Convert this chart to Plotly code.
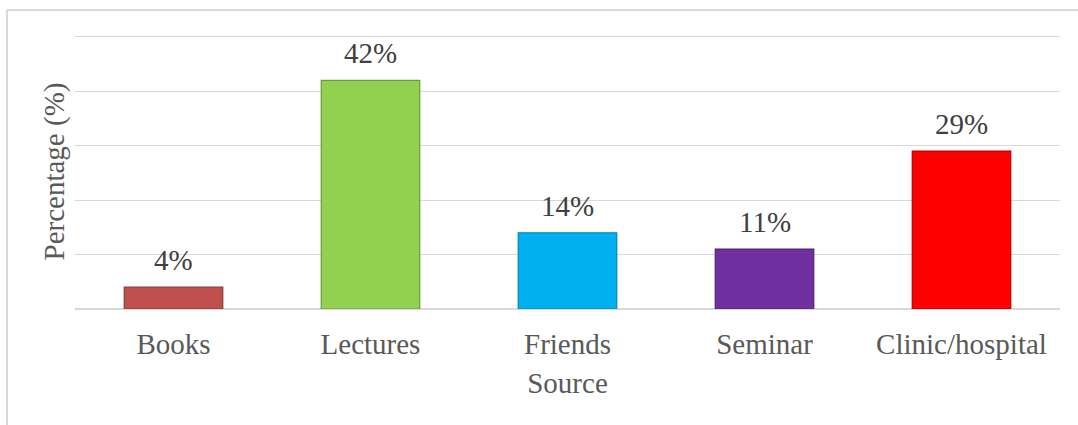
import plotly.graph_objects as go

# Source of information and share of respondents (%)
sources = ["Books", "Lectures", "Friends", "Seminar", "Clinic/hospital"]
percentages = [4, 42, 14, 11, 29]
bar_colors = ["#C0504D", "#92D050", "#00B0F0", "#7030A0", "#FF0000"]
edge_colors = ["#8C3836", "#6A9A3A", "#0086B8", "#52237A", "#B80000"]

FONT = "Times New Roman, Liberation Serif, serif"

fig = go.Figure(
    go.Bar(
        x=sources,
        y=percentages,
        width=0.5,
        marker=dict(color=bar_colors, line=dict(color=edge_colors, width=1.2)),
        hoverinfo="skip",
    )
)

# Value labels above each bar
for s, v in zip(sources, percentages):
    fig.add_annotation(
        x=s, y=v, text=f"{v}%", showarrow=False,
        yanchor="middle", yshift=27,
        font=dict(family=FONT, size=29, color="#404040"),
    )

# Chart frame (top and left edges)
fig.add_shape(type="line", xref="paper", yref="paper",
              x0=-68 / 985, x1=1.05, y0=1 + 24 / 275, y1=1 + 24 / 275,
              line=dict(color="#D9D9D9", width=2))
fig.add_shape(type="line", xref="paper", yref="paper",
              x0=-68 / 985, x1=-68 / 985, y0=1 + 24 / 275, y1=-1,
              line=dict(color="#D9D9D9", width=2))

fig.update_layout(
    width=1078, height=425,
    margin=dict(l=75, r=18, t=34, b=116),
    paper_bgcolor="white", plot_bgcolor="white",
    showlegend=False,
    font=dict(family=FONT, color="#595959", size=29),
    xaxis=dict(
        showgrid=False, showline=False,
        ticks="outside", ticklen=9, tickcolor="rgba(0,0,0,0)",
        tickfont=dict(family=FONT, size=29, color="#595959"),
        title=dict(text="Source", font=dict(family=FONT, size=29, color="#595959"), standoff=13),
        automargin=False,
    ),
    yaxis=dict(
        range=[0, 50.5], tickvals=[0, 10, 20, 30, 40, 50], showticklabels=False, ticks="",
        showgrid=True, gridcolor="#D9D9D9", gridwidth=1,
        zeroline=True, zerolinecolor="#D9D9D9", zerolinewidth=2,
        title=dict(text="Percentage (%)", font=dict(family=FONT, size=29, color="#595959"), standoff=0),
        automargin=False,
    ),
)

fig.write_html("out.html")
